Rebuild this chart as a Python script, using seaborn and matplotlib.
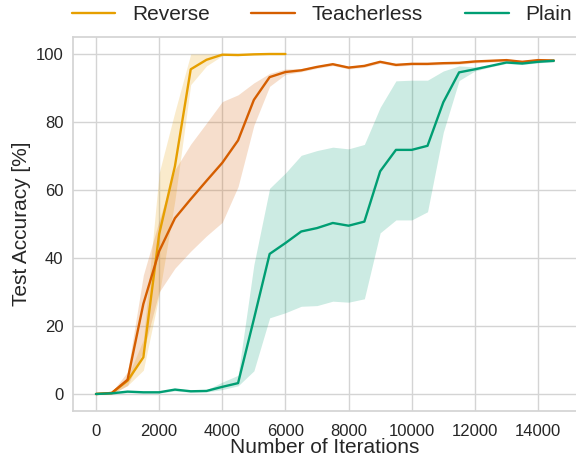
import numpy as np
import pandas as pd
import matplotlib
matplotlib.use("Agg")
import matplotlib.pyplot as plt
import seaborn as sns

# ---------------- data ----------------
methods = ["Reverse", "Teacherless", "Plain"]
colors = ["#E69F00", "#D55E00", "#009E73"]

rev_iters = list(range(0, 6001, 500))
rev_mean = [0, 0.3, 3.9, 10.8, 47, 67, 95.5, 98.3, 99.8, 99.7, 99.9, 100, 100]
rev_low = [0, 0, 2.5, 7, 29, 57, 91, 96.5, 99.5, 99.5, 99.8, 99.9, 99.9]
rev_high = [0, 0.6, 5, 16, 65, 83, 100, 100, 100, 100, 100, 100, 100]

tl_iters = list(range(0, 14501, 500))
tl_mean = [0, 0.3, 4.2, 26.5, 42, 51.7, 57.3, 62.7, 68, 74.6, 86.5, 93.2, 94.7,
           95.2, 96.2, 97.0, 96.0, 96.5, 97.7, 96.8, 97.1, 97.1, 97.3, 97.4,
           97.8, 98.0, 98.2, 97.7, 98.2, 98.1]
tl_low = [0, 0, 2.5, 12.5, 30, 37, 42, 46.5, 50.5, 61, 79, 90.5, 94,
          94.8, 95.8, 96.6, 95.6, 96.1, 97.3, 96.4, 96.7, 96.7, 96.9, 97.0,
          97.4, 97.6, 97.8, 97.3, 97.8, 97.7]
tl_high = [0, 0.6, 6.5, 35, 51, 66, 73.5, 79.7, 86, 88, 91.5, 94.3, 95.6,
           95.7, 96.6, 97.4, 96.4, 96.9, 98.1, 97.2, 97.5, 97.5, 97.7, 97.8,
           98.2, 98.4, 98.6, 98.1, 98.6, 98.5]

pl_iters = list(range(0, 14501, 500))
pl_mean = [0, 0.2, 0.7, 0.5, 0.5, 1.3, 0.8, 0.9, 2.1, 3.2, 22, 41.2, 44.4,
           47.8, 48.8, 50.3, 49.5, 50.7, 65.5, 71.8, 71.8, 73.0, 85.8, 94.6,
           95.5, 96.5, 97.5, 97.2, 97.7, 98.0]
pl_low = [0, 0, 0.4, 0.3, 0.3, 0.9, 0.5, 0.6, 1.3, 2.4, 6.8, 22.4, 23.9,
          25.8, 26, 27.3, 27, 28, 47.4, 51.2, 51.2, 53.6, 77, 92.2,
          95, 96.2, 97.2, 96.9, 97.4, 97.7]
pl_high = [0, 0.4, 1.0, 0.7, 0.7, 1.7, 1.1, 1.2, 3.5, 5.5, 38, 60.5, 65,
           70.2, 71.6, 72.6, 72.1, 73.4, 84.3, 92.1, 92.3, 92.3, 95, 96.5,
           96.2, 96.8, 97.8, 97.5, 98, 98.3]

x_ticks = [0, 2000, 4000, 6000, 8000, 10000, 12000, 14000]
y_ticks = [0, 20, 40, 60, 80, 100]

# ---------------- table ----------------
series = {
    "Reverse": (rev_iters, rev_mean, rev_low, rev_high),
    "Teacherless": (tl_iters, tl_mean, tl_low, tl_high),
    "Plain": (pl_iters, pl_mean, pl_low, pl_high),
}
rows = []
for m in methods:
    it, mu, lo, hi = series[m]
    for a, b, c, d in zip(it, mu, lo, hi):
        rows.append({"iter": a, "acc": b, "low": c, "high": d, "method": m})
df = pd.DataFrame(rows)

# ---------------- plot ----------------
sns.set_theme(style="whitegrid")
plt.rcParams["font.family"] = ["Liberation Sans", "DejaVu Sans"]
plt.rcParams["grid.color"] = "#d4d4d4"
plt.rcParams["axes.edgecolor"] = "#d4d4d4"

fig = plt.figure(figsize=(5.76, 4.59), dpi=100)
W, H = 576, 459
left, right, top, bottom = 73.1, 576.7, 37.0, 411.0
ax = fig.add_axes([left / W, 1 - bottom / H, (right - left) / W, (bottom - top) / H])

palette = dict(zip(methods, colors))
for m in methods:
    sub = df[df["method"] == m]
    ax.fill_between(sub["iter"], sub["low"], sub["high"], color=palette[m],
                    alpha=0.2, linewidth=0)

sns.lineplot(data=df, x="iter", y="acc", hue="method", hue_order=methods,
             palette=palette, linewidth=1.7, errorbar=None, ax=ax, legend=False)

ax.set_xlim(-725, 15225)
ax.set_ylim(-5, 105)
ax.set_xticks(x_ticks)
ax.set_yticks(y_ticks)
ax.tick_params(axis="both", labelsize=12, length=0, colors="#262626")
ax.tick_params(axis="x", pad=9.5)
ax.tick_params(axis="y", pad=7)
ax.set_xlabel("Number of Iterations", fontsize=15, labelpad=-1, color="#262626")
ax.set_ylabel("Test Accuracy [%]", fontsize=15, labelpad=3, color="#262626")
for s in ax.spines.values():
    s.set_color("#d4d4d4")

handles = [plt.Line2D([], [], color=c, linewidth=1.7) for c in colors]
fig.legend(handles, methods, loc="center", bbox_to_anchor=(321.7 / W, 1 - 15 / H),
           ncol=3, frameon=False, fontsize=15, handlelength=2.1,
           handletextpad=0.8, columnspacing=2.0, borderpad=0.2)

fig.savefig("out.png", dpi=100)
